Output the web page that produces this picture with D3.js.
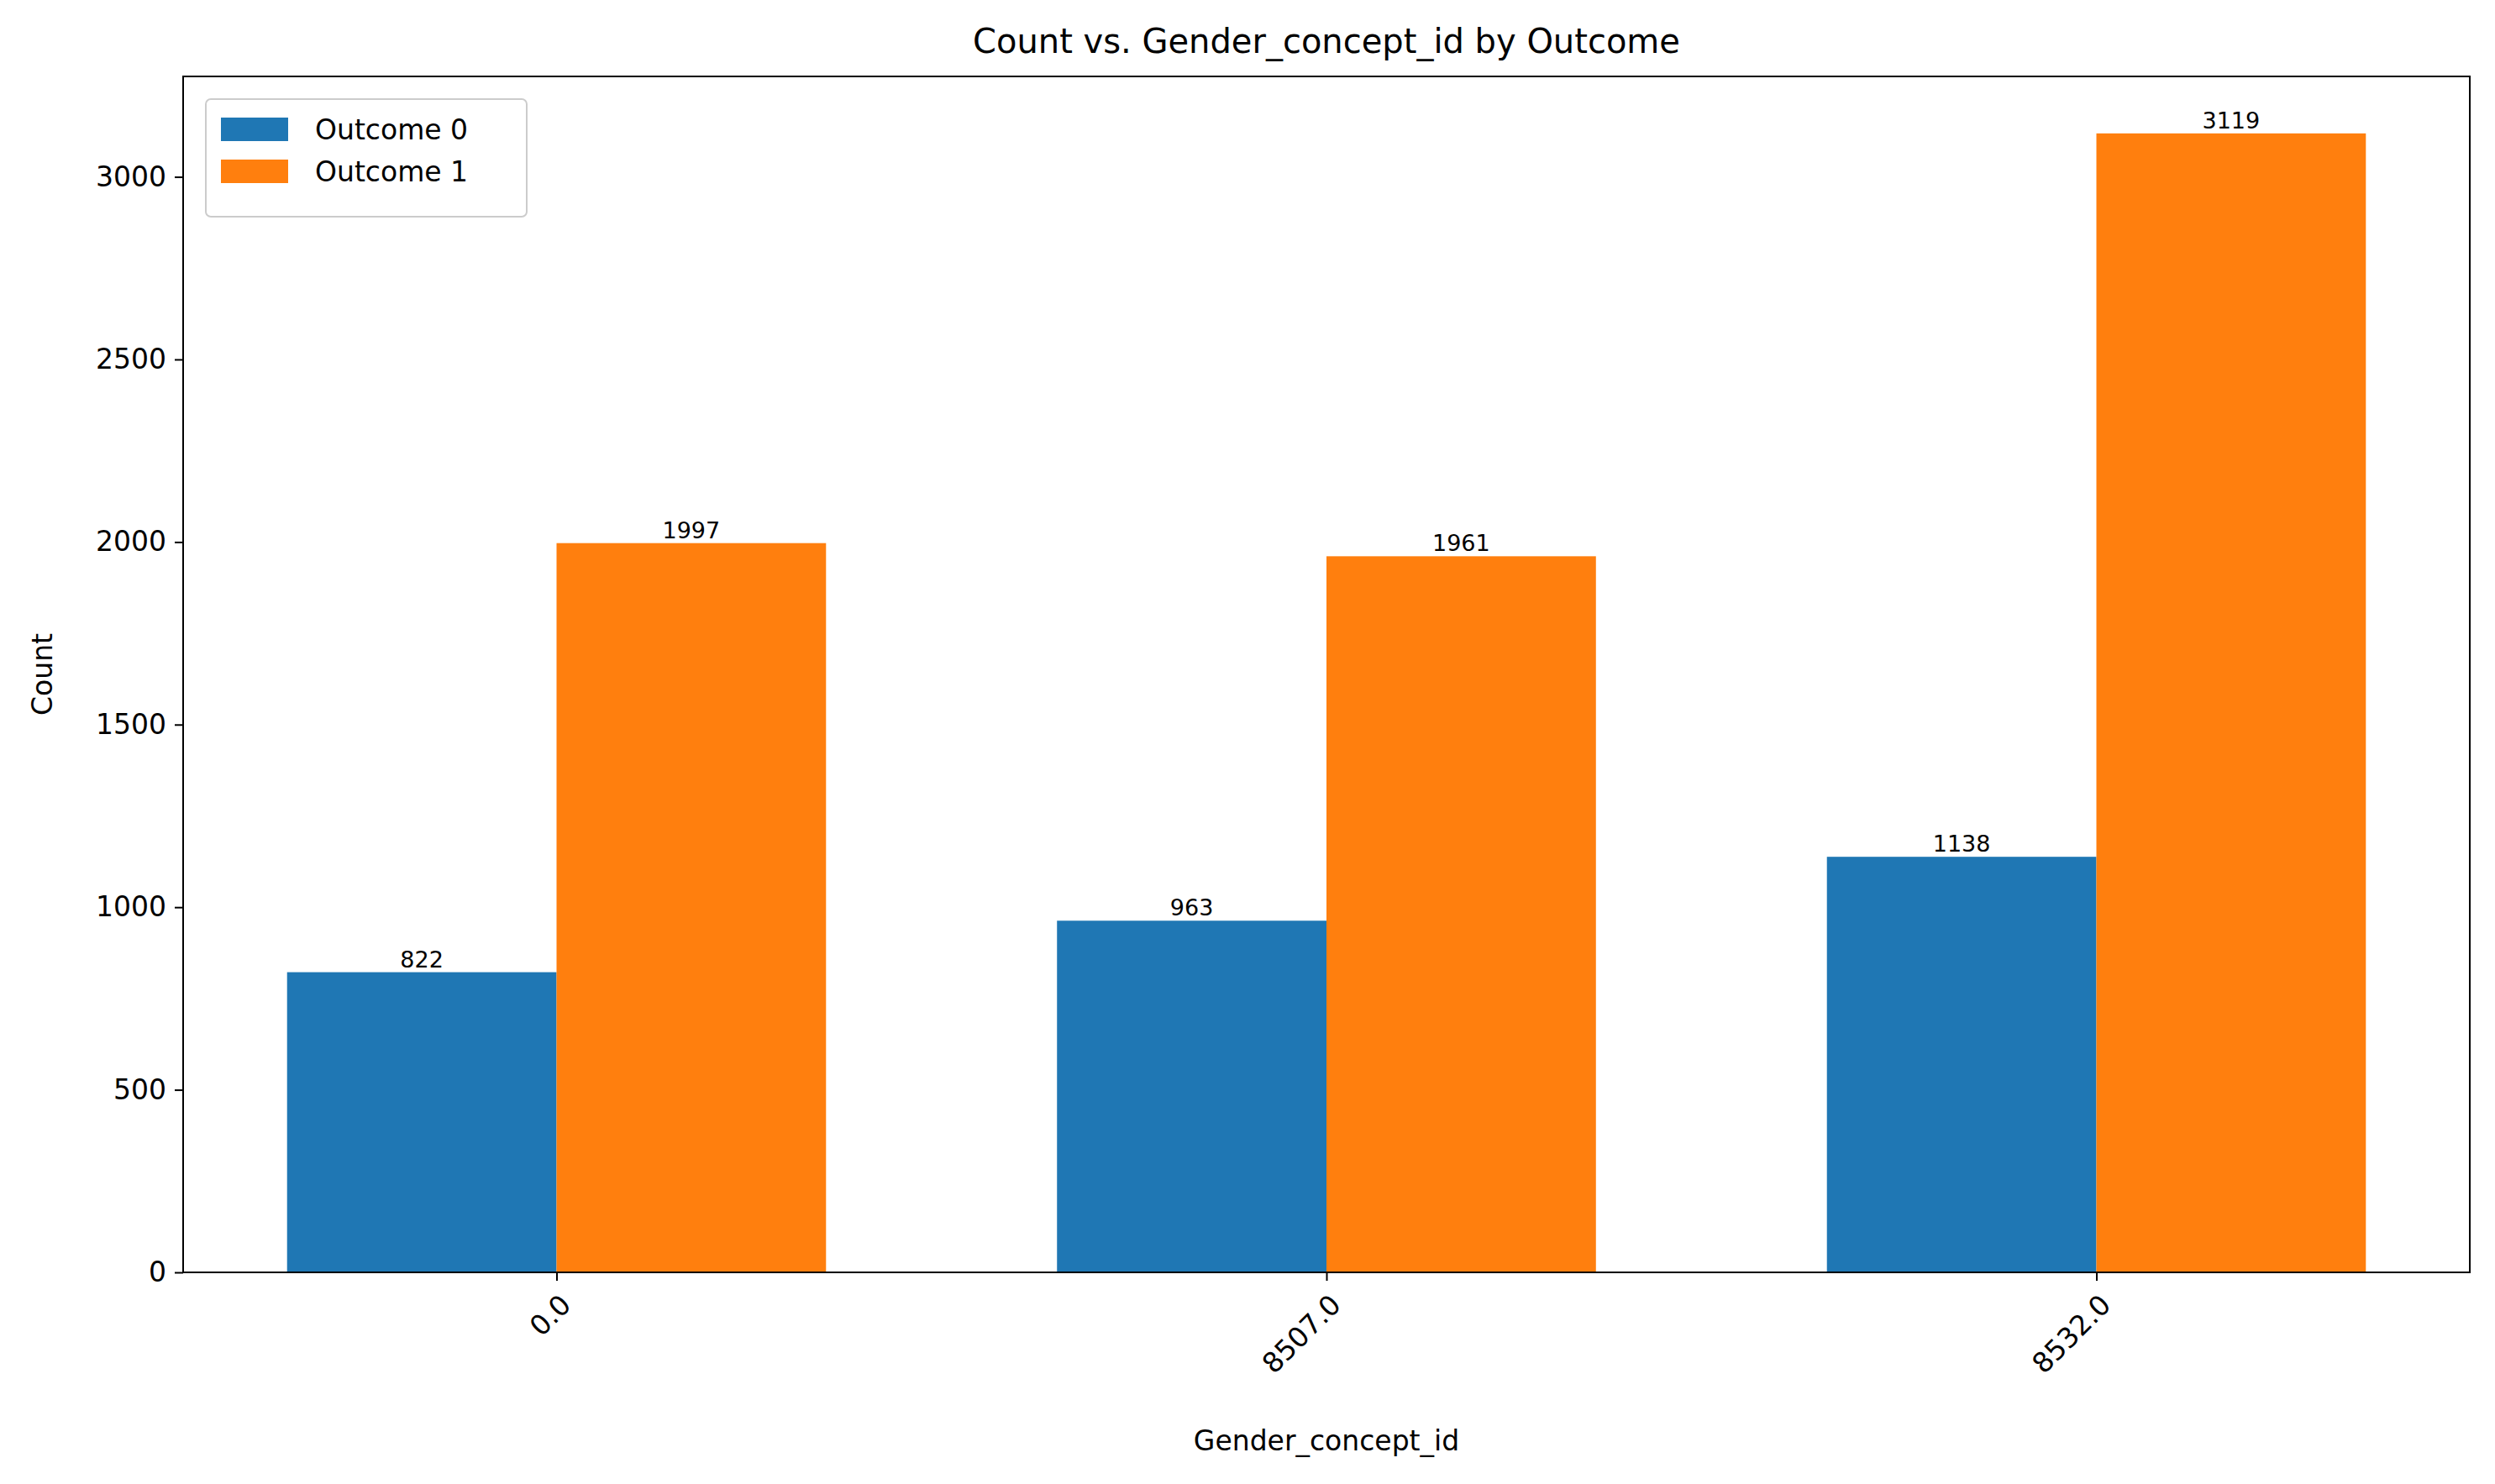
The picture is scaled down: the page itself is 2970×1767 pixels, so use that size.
<!DOCTYPE html>
<html><head><meta charset="utf-8">
<script src="https://cdn.jsdelivr.net/npm/d3@7"></script>
<style>body{margin:0;background:#fff}text{font-family:"DejaVu Sans",sans-serif}</style>
</head><body><svg id="c" width="2970" height="1767"></svg>
<script>
var categories = ["0.0", "8507.0", "8532.0"];
var outcome0 = [822, 963, 1138];
var outcome1 = [1997, 1961, 3119];
var seriesNames = ["Outcome 0", "Outcome 1"];
var colors = ["#1f77b4", "#ff7f0e"];
var yTicks = [0, 500, 1000, 1500, 2000, 2500, 3000];

var svg = d3.select("#c");
var L = 218, R = 2940, T = 91, B = 1515;
var x = d3.scaleLinear().domain([-0.485, 2.485]).range([L, R]);
var y = d3.scaleLinear().domain([0, 3275]).range([B, T]);
var w = 0.35;

[outcome0, outcome1].forEach(function(vals, s){
  var off = s === 0 ? -w : 0;
  svg.selectAll(null).data(vals).enter().append("rect")
    .attr("x", function(d,i){ return x(i + off); })
    .attr("width", x(w) - x(0))
    .attr("y", function(d){ return y(d); })
    .attr("height", function(d){ return B - y(d); })
    .attr("fill", colors[s]);
  svg.selectAll(null).data(vals).enter().append("text")
    .attr("x", function(d,i){ return x(i + off + w/2); })
    .attr("y", function(d){ return y(d) - 6; })
    .attr("text-anchor", "middle").attr("font-size", 27)
    .text(function(d){ return d; });
});

var ya = svg.append("g").attr("transform", "translate(" + L + ",0)")
  .call(d3.axisLeft(y).tickValues(yTicks).tickSize(10).tickPadding(10).tickFormat(d3.format("d")));
var xa = svg.append("g").attr("transform", "translate(0," + B + ")")
  .call(d3.axisBottom(x).tickValues([0,1,2]).tickSize(10).tickFormat(function(d){ return categories[d]; }));
[ya, xa].forEach(function(a){
  a.select(".domain").remove();
  a.selectAll("line").attr("stroke", "#000").attr("stroke-width", 2);
  a.selectAll("text").attr("font-size", 33).attr("fill", "#000").style("font-family", "DejaVu Sans");
});
xa.selectAll("text").attr("text-anchor", "end").attr("dy", null)
  .attr("transform", "translate(0,22) rotate(-45)").attr("y", 0).attr("x", 0).attr("dy", "0.8em");

svg.append("rect").attr("x", L).attr("y", T).attr("width", R - L).attr("height", B - T)
  .attr("fill", "none").attr("stroke", "#000").attr("stroke-width", 2);

svg.append("text").attr("x", (L+R)/2).attr("y", 63).attr("text-anchor", "middle")
  .attr("font-size", 40).text("Count vs. Gender_concept_id by Outcome");
svg.append("text").attr("x", (L+R)/2).attr("y", 1727).attr("text-anchor", "middle")
  .attr("font-size", 33).text("Gender_concept_id");
svg.append("text").attr("transform", "translate(62," + (T+B)/2 + ") rotate(-90)")
  .attr("text-anchor", "middle").attr("font-size", 33).text("Count");

var lg = svg.append("g").attr("transform", "translate(" + (L + 27) + "," + (T + 27) + ")");
lg.append("rect").attr("width", 382).attr("height", 140).attr("rx", 6)
  .attr("fill", "#fff").attr("fill-opacity", 0.8).attr("stroke", "#ccc").attr("stroke-width", 2);
seriesNames.forEach(function(n, i){
  lg.append("rect").attr("x", 18).attr("y", 22 + i*50).attr("width", 80).attr("height", 28).attr("fill", colors[i]);
  lg.append("text").attr("x", 130).attr("y", 48 + i*50).attr("font-size", 33).text(n);
});
</script></body></html>
